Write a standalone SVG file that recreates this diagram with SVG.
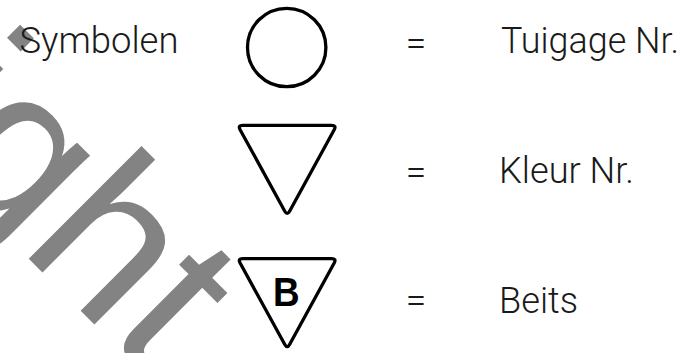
<svg xmlns="http://www.w3.org/2000/svg" xmlns:xlink="http://www.w3.org/1999/xlink" width="684" height="353" viewBox="0 0 684 353">
<style>
.lbl{font-family:Roboto,"Liberation Sans",Arial,sans-serif;font-weight:300;font-size:37px;fill:#1a1a1a}
.eq{font-family:Roboto,"Liberation Sans",Arial,sans-serif;font-weight:300;font-size:37px;fill:#1a1a1a;text-anchor:middle}
.sym{fill:#fff;stroke:#000;stroke-width:3.3;stroke-linejoin:round}
.wm{font-family:"Liberation Sans",Arial,sans-serif;font-size:220px;fill:#838383}
.b{font-family:"Liberation Sans",Arial,sans-serif;font-weight:bold;font-size:41px;fill:#000;text-anchor:middle}
</style>
<defs>
<path id="tri" d="M242.7,125.3 L331.6,125.3 Q336.6,125.3 334.2,129.7 L289.6,211.2 Q287.2,215.6 284.8,211.2 L240.1,129.7 Q237.7,125.3 242.7,125.3 Z"/>
</defs>
<rect width="684" height="353" fill="#fff"/>
<g id="watermark">
<text class="wm" transform="translate(-518,-288) rotate(45)" x="0" y="0">Copyright</text>
</g>
<g id="title">
<text class="lbl" x="19.5" y="53.3" textLength="159" lengthAdjust="spacingAndGlyphs">Symbolen</text>
</g>
<g id="row-tuigage">
<circle class="sym" cx="286.7" cy="47.5" r="39.2"/>
<text class="eq" x="416" y="56">=</text>
<text class="lbl" x="501" y="53.3" textLength="178" lengthAdjust="spacingAndGlyphs">Tuigage Nr.</text>
</g>
<g id="row-kleur">
<use href="#tri" xlink:href="#tri" class="sym"/>
<text class="eq" x="416" y="184.5">=</text>
<text class="lbl" x="499" y="183.3" textLength="135" lengthAdjust="spacingAndGlyphs">Kleur Nr.</text>
</g>
<g id="row-beits">
<use href="#tri" xlink:href="#tri" class="sym" transform="translate(0,133.3)"/>
<text class="b" transform="translate(286.2,306) scale(0.9,1)">B</text>
<text class="eq" x="416" y="313">=</text>
<text class="lbl" x="499" y="313.3" textLength="79" lengthAdjust="spacingAndGlyphs">Beits</text>
</g>
</svg>
